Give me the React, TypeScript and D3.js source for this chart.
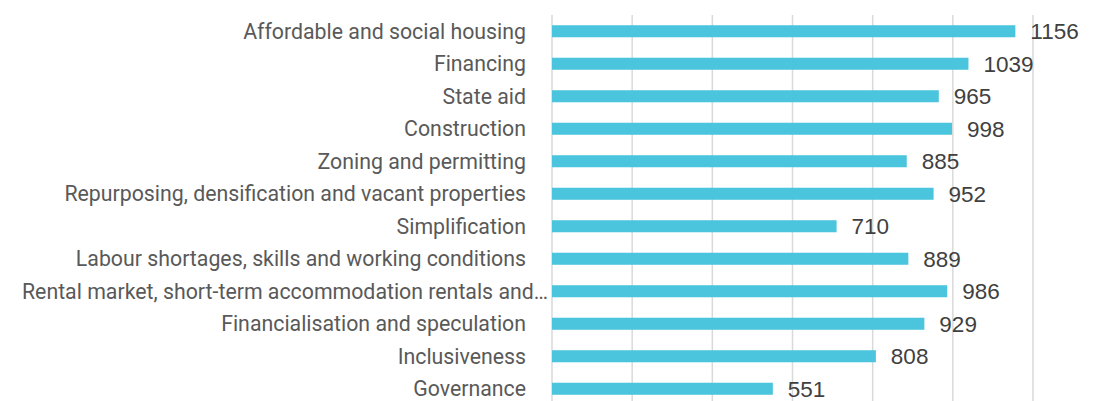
import React, { useEffect, useRef } from 'react';
import * as d3 from 'd3';

const categories = [
  'Affordable and social housing',
  'Financing',
  'State aid',
  'Construction',
  'Zoning and permitting',
  'Repurposing, densification and vacant properties',
  'Simplification',
  'Labour shortages, skills and working conditions',
  'Rental market, short-term accommodation rentals and…',
  'Financialisation and speculation',
  'Inclusiveness',
  'Governance',
];
const counts = [1156, 1039, 965, 998, 885, 952, 710, 889, 986, 929, 808, 551];
const gridTicks = [0, 200, 400, 600, 800, 1000, 1200];

const W = 1099;
const H = 401;
const margin = { top: 15, right: 66, bottom: -4, left: 552 };

export default function App() {
  const ref = useRef<SVGSVGElement>(null);

  useEffect(() => {
    const svg = d3.select(ref.current);
    svg.selectAll('*').remove();

    const x = d3.scaleLinear().domain([0, 1200]).range([margin.left, W - margin.right]);
    const y = d3.scaleBand().domain(categories).range([margin.top, H - margin.bottom]).paddingInner(0.63).paddingOuter(0.315);

    // gridlines
    svg.append('g')
      .selectAll('line')
      .data(gridTicks)
      .join('line')
      .attr('x1', d => x(d))
      .attr('x2', d => x(d))
      .attr('y1', margin.top)
      .attr('y2', H)
      .attr('stroke', '#d9d9d9')
      .attr('stroke-width', 1.5);

    const data = categories.map((c, i) => ({ c, v: counts[i] }));

    svg.append('g')
      .selectAll('rect')
      .data(data)
      .join('rect')
      .attr('x', x(0))
      .attr('y', d => y(d.c)!)
      .attr('width', d => x(d.v) - x(0))
      .attr('height', y.bandwidth())
      .attr('fill', '#4bc5de');

    // value labels
    svg.append('g')
      .selectAll('text')
      .data(data)
      .join('text')
      .attr('x', d => x(d.v) + 15)
      .attr('y', d => y(d.c)! + y.bandwidth() / 2)
      .attr('dy', '0.36em')
      .attr('fill', '#404040')
      .attr('font-size', 22.5)
      .attr('font-family', 'Liberation Sans, Arial, sans-serif')
      .text(d => d.v);

    // category labels
    svg.append('g')
      .selectAll('text')
      .data(data)
      .join('text')
      .attr('x', d => (d.c.endsWith('…') ? margin.left - 4 : margin.left - 26))
      .attr('y', d => y(d.c)! + y.bandwidth() / 2)
      .attr('dy', '0.35em')
      .attr('text-anchor', 'end')
      .attr('fill', '#595959')
      .attr('font-size', 21.3)
      .attr('font-family', 'Roboto, sans-serif')
      .text(d => d.c);
  }, []);

  return (
    <svg
      ref={ref}
      width={W}
      height={H}
      style={{ position: 'absolute', left: 0, top: 0, background: '#fff', display: 'block' }}
    />
  );
}
